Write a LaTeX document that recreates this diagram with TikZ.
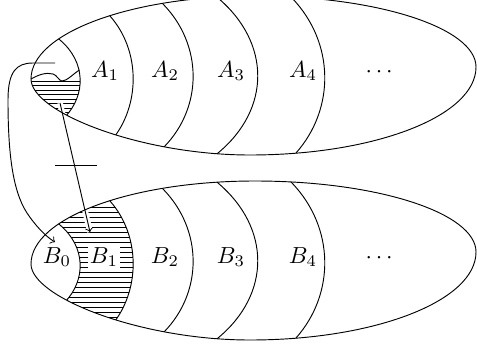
\documentclass[tikz,border=0pt]{standalone}
\usepackage{amsmath,amssymb}
\usepackage{tikz}

\newcommand{\eggpath}{(31,79) .. controls (31,33) and (131,-4) .. (255,-4) .. controls (377.5,-4) and (476,28) .. (476,67) .. controls (476,116) and (375,155) .. (250,155) .. controls (140,155) and (31,112) .. cycle}

\tikzset{
  lbl/.style={anchor=base, inner sep=1pt},
  gap/.style={white, line width=2.5pt},
}

\begin{document}
\begin{tikzpicture}[x=0.43pt,y=-0.43pt]
  \useasboundingbox (0,0) rectangle (477,347);
  \coordinate (a0) at (60,103);
  \coordinate (b1in) at (90,232);
  \coordinate (c0) at (55,63);
  \coordinate (c1) at (33,63);
  \coordinate (b0in) at (55,242);
  \coordinate (x0) at (55,165);
  \coordinate (x1) at (97,165);
  % hatched part of the first cell
  \begin{scope}
    \clip \eggpath;
    \clip (60,-10) -- (60,40) .. controls (86,62) and (86,95) .. (65,117) -- (65,200) -- (-10,200) -- (-10,-10) -- cycle;
    \clip (31,79) .. controls (38,75) and (46,72) .. (53,74) .. controls (57,75) and (59,81) .. (62,81) .. controls (67,81) and (73,74) .. (79.5,70) -- (120,70) -- (120,200) -- (-10,200) -- (-10,79) -- cycle;
    \foreach \y in {81,85.5,...,113} \draw (20,\y) -- (90,\y);
    \draw[gap] (a0) -- (b1in);
  \end{scope}
  % hatched B_1
  \begin{scope}
    \clip[shift={(0,185)}] \eggpath;
    \clip (60,150) -- (60,225) .. controls (86,247) and (86,280) .. (65,302) -- (65,400) -- (115,400) -- (115,321) .. controls (140,287) and (140,235) .. (110,201) -- (110,150) -- cycle;
    \foreach \y in {207,212,...,325} \draw (50,\y) -- (150,\y);
    \draw[gap] (a0) -- (b1in);
  \end{scope}
  % the two sets
  \foreach \dy in {0,185} {
    \begin{scope}[shift={(0,\dy)}]
      \draw \eggpath;
      \clip \eggpath;
      \draw (56,36.6) -- (60,40) .. controls (86,62) and (86,95) .. (65,117) -- (61.4,120.8);
      \draw (106.7,12.3) -- (110,16) .. controls (140,50) and (140,102) .. (115,136) -- (112,140);
      \draw (159.5,0.5) -- (163,4) .. controls (203,45) and (203,107) .. (164,147) -- (160.5,150.5);
      \draw (214.1,-5.2) -- (218,-2) .. controls (271,43) and (271,109) .. (218,153) -- (214.2,156.2);
      \draw (288.5,-5.6) -- (292,-2) .. controls (335,43) and (335,109) .. (296,153) -- (292.7,156.7);
    \end{scope}
  }
  \draw (31,79) .. controls (38,75) and (46,72) .. (53,74) .. controls (57,75) and (59,81) .. (62,81) .. controls (67,81) and (73,74) .. (79.5,70);
  % labels
  \node[lbl] (a1) at (105,77) {$A_1$};
  \node[lbl] (a2) at (165,77) {$A_2$};
  \node[lbl] (a3) at (231,77) {$A_3$};
  \node[lbl] (a4) at (303,77) {$A_4$};
  \node[lbl] (a5) at (381,77) {$\cdots$};
  \node[lbl] (b0) at (57,263) {$B_0$};
  \node[lbl, fill=white] (b1) at (104,263) {$B_1$};
  \node[lbl] (b2) at (165,263) {$B_2$};
  \node[lbl] (b3) at (231,263) {$B_3$};
  \node[lbl] (b4) at (303,263) {$B_4$};
  \node[lbl] (b5) at (381,263) {$\cdots$};
  % arrows
  \draw[->] (a0) -- (b1in);
  \draw[->] (c0) -- (c1) .. controls (16,63) and (8,72) .. (8,100) .. controls (8,150) and (12,190) .. (27,213) .. controls (35,225) and (45,236) .. (b0in);
  \draw (x0) -- (x1);
\end{tikzpicture}
\end{document}
